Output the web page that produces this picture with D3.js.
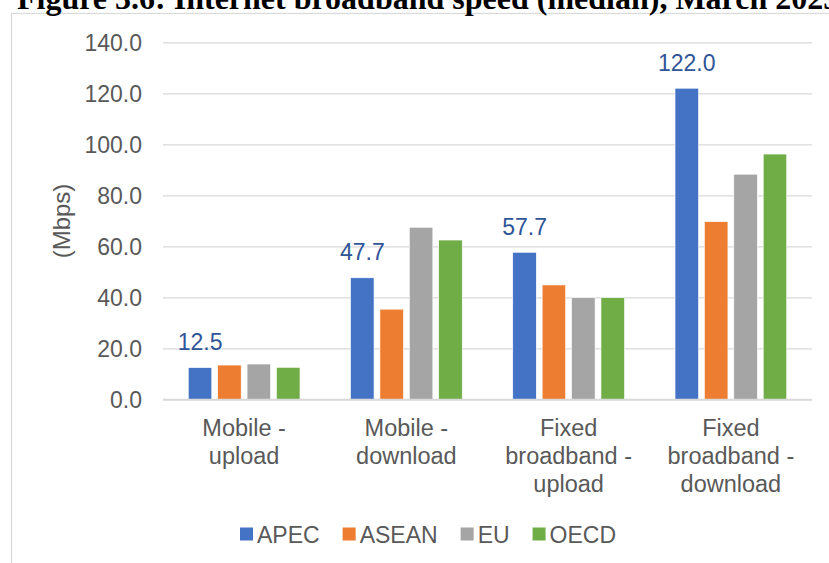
<!DOCTYPE html>
<html>
<head>
<meta charset="utf-8">
<script src="https://cdn.jsdelivr.net/npm/d3@7"></script>
<style>
  html, body { margin: 0; padding: 0; background: #fff; }
  svg { display: block; }
</style>
</head>
<body>
<svg id="chart" width="829" height="563"></svg>
<script>
// ---- Data ----
const title = "Figure 3.6: Internet broadband speed (median), March 2023";
const categories = ["Mobile - upload", "Mobile - download", "Fixed broadband - upload", "Fixed broadband - download"];
const categoryLines = [["Mobile -", "upload"], ["Mobile -", "download"], ["Fixed", "broadband -", "upload"], ["Fixed", "broadband -", "download"]];
const seriesNames = ["APEC", "ASEAN", "EU", "OECD"];
const apec  = [12.5, 47.7, 57.7, 122.0];
const asean = [13.5, 35.4, 44.9, 69.7];
const eu    = [13.9, 67.5, 39.9, 88.3];
const oecd  = [12.6, 62.5, 39.9, 96.2];
const yTicks = [0, 20, 40, 60, 80, 100, 120, 140];
const yTitle = "(Mbps)";
const colors = ["#4472C4", "#ED7D31", "#A5A5A5", "#70AD47"];

const seriesValues = [apec, asean, eu, oecd];

// ---- Layout ----
const svg = d3.select("#chart");
const plot = { left: 163, right: 812, top: 42.3, bottom: 399.5 };
const font = "Arial, 'Liberation Sans', Helvetica, sans-serif";
const textGray = "#595959";
const gridColor = "#D9D9D9";

// Chart area border
svg.append("rect")
  .attr("x", 11.5).attr("y", 13.5)
  .attr("width", 900).attr("height", 700)
  .attr("fill", "#fff")
  .attr("stroke", "#D9D9D9").attr("stroke-width", 1.2);

// Title
const t = svg.append("text")
  .attr("x", 17).attr("y", 8.5)
  .attr("font-family", "'Times New Roman', 'Liberation Serif', serif")
  .attr("font-weight", "bold")
  .attr("font-size", 32)
  .attr("fill", "#000")
  .text(title);

// Scales
const y = d3.scaleLinear().domain([0, 140]).range([plot.bottom, plot.top]);
const x0 = d3.scaleBand().domain(categories).range([plot.left, plot.right]).paddingInner(0).paddingOuter(0);
const groupW = 117.6;
const x1 = d3.scaleBand().domain(seriesNames).range([0, groupW]).paddingInner(0.2).paddingOuter(0.1);

// Gridlines
const gridAxis = d3.axisLeft(y).tickValues(yTicks).tickSize(-(plot.right - plot.left)).tickFormat("");
const gridG = svg.append("g").attr("transform", `translate(${plot.left},0)`).call(gridAxis);
gridG.select(".domain").remove();
gridG.selectAll(".tick line").attr("stroke", gridColor).attr("stroke-width", 1.3);

// Y tick labels
const yAxis = d3.axisLeft(y).tickValues(yTicks).tickSize(0).tickPadding(0).tickFormat(d3.format(".1f"));
const yG = svg.append("g").attr("transform", `translate(142,0)`).call(yAxis);
yG.select(".domain").remove();
yG.selectAll(".tick text")
  .attr("font-family", font).attr("font-size", 23).attr("fill", textGray)
  .attr("dy", "0.35em");

// Y title
svg.append("text")
  .attr("transform", `translate(69.5,221) rotate(-90)`)
  .attr("text-anchor", "middle")
  .attr("font-family", font).attr("font-size", 24).attr("fill", textGray)
  .text(yTitle);

// Bars
const groups = svg.append("g").selectAll("g.cat")
  .data(categories)
  .join("g")
  .attr("class", "cat")
  .attr("transform", d => `translate(${x0(d) + x0.bandwidth() / 2 - groupW / 2},0)`);

groups.selectAll("rect")
  .data((d, i) => seriesNames.map((s, j) => ({ s, j, v: seriesValues[j][i] })))
  .join("rect")
  .attr("x", d => x1(d.s))
  .attr("width", x1.bandwidth())
  .attr("y", d => y(d.v))
  .attr("height", d => y(0) - y(d.v))
  .attr("fill", d => colors[d.j])
  .attr("stroke", "#fff").attr("stroke-width", 0.6);

// Baseline axis
svg.append("line")
  .attr("x1", plot.left).attr("x2", plot.right)
  .attr("y1", y(0)).attr("y2", y(0))
  .attr("stroke", gridColor).attr("stroke-width", 1.5);

// Data labels (APEC only)
groups.append("text")
  .datum((d, i) => apec[i])
  .attr("x", x1("APEC") + x1.bandwidth() / 2)
  .attr("y", d => y(d) - 17.5)
  .attr("text-anchor", "middle")
  .attr("font-family", font).attr("font-size", 23).attr("fill", "#2F5597")
  .text(d => d3.format(".1f")(d));

// X labels
categories.forEach((c, i) => {
  const cx = x0(c) + x0.bandwidth() / 2;
  const txt = svg.append("text")
    .attr("text-anchor", "middle")
    .attr("font-family", font).attr("font-size", 23.5).attr("fill", textGray);
  categoryLines[i].forEach((line, k) => {
    txt.append("tspan").attr("x", cx).attr("y", 436 + k * 27.8).text(line);
  });
});

// Legend
const legend = svg.append("g");
let lx = 240;
seriesNames.forEach((s, j) => {
  legend.append("rect")
    .attr("x", lx).attr("y", 527.5).attr("width", 13).attr("height", 13)
    .attr("fill", colors[j]);
  const lt = legend.append("text")
    .attr("x", lx + 17).attr("y", 542.7)
    .attr("font-family", font).attr("font-size", 23).attr("fill", textGray)
    .text(s);
  lx += 17 + lt.node().getComputedTextLength() + 23;
});
</script>
</body>
</html>
